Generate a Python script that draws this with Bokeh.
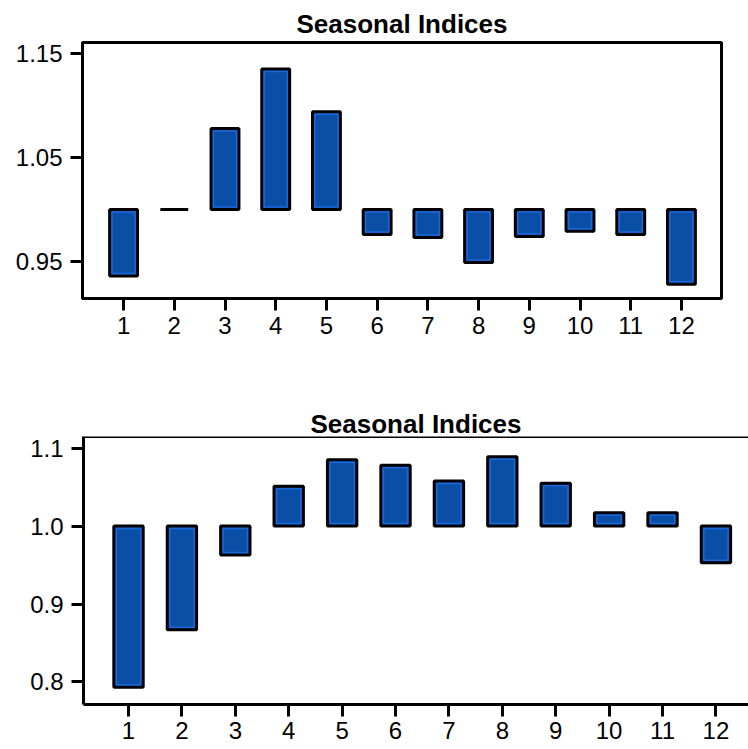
from bokeh.plotting import figure
from bokeh.models import FixedTicker, Span, Range1d, PrintfTickFormatter, ColumnDataSource, Title
from bokeh.embed import file_html
from bokeh.resources import INLINE

# ---- data ----
months = [1, 2, 3, 4, 5, 6, 7, 8, 9, 10, 11, 12]
month_labels = [str(m) for m in months]
top_indices = [0.936, 1.000, 1.078, 1.135, 1.094, 0.976, 0.973, 0.949, 0.974, 0.979, 0.976, 0.928]
bottom_indices = [0.793, 0.867, 0.963, 1.051, 1.085, 1.078, 1.058, 1.089, 1.055, 1.017, 1.017, 0.953]
top_yticks = [0.95, 1.05, 1.15]
bottom_yticks = [0.8, 0.9, 1.0, 1.1]
baseline = 1.0
title_text = "Seasonal Indices"

FONT = "Liberation Sans"
FILL = "#0a4fa5"
RING = "#1c6be0"
BAR_W = 0.55
INNER_W = 0.455


def style_axes(p, yticks, fmt):
    p.xgrid.visible = False
    p.ygrid.visible = False
    p.xaxis.ticker = FixedTicker(ticks=months)
    p.xaxis.major_label_overrides = {m: l for m, l in zip(months, month_labels)}
    p.yaxis.ticker = FixedTicker(ticks=yticks)
    p.yaxis.formatter = PrintfTickFormatter(format=fmt)
    for ax in (p.xaxis[0], p.yaxis[0]):
        ax.axis_line_color = "black"
        ax.axis_line_width = 3
        ax.major_tick_line_color = "black"
        ax.major_tick_line_width = 3
        ax.major_tick_out = 12
        ax.major_tick_in = 0
        ax.minor_tick_line_color = None
        ax.major_label_text_font = FONT
        ax.major_label_text_font_size = "24px"
        ax.major_label_text_color = "black"
    p.yaxis.major_label_standoff = 8
    p.background_fill_color = "white"
    p.border_fill_color = "white"


def make_title(standoff):
    return Title(text=title_text, align="center", text_font=FONT, text_font_size="26px",
                 text_font_style="bold", text_color="black", standoff=standoff)


def draw_bars(p, values, inset):
    src = ColumnDataSource(dict(x=months, top=values, bottom=[baseline] * len(values)))
    p.vbar(x="x", top="top", bottom="bottom", width=BAR_W, source=src,
           fill_color=FILL, line_color="black", line_width=3)
    # lighter inner edge (sheen) for bars tall enough to show it
    xs, tops, bots = [], [], []
    for m, v in zip(months, values):
        if abs(v - baseline) > 3 * inset:
            hi, lo = max(v, baseline), min(v, baseline)
            xs.append(m)
            tops.append(hi - inset)
            bots.append(lo + inset)
    src_in = ColumnDataSource(dict(x=xs, top=tops, bottom=bots))
    p.vbar(x="x", top="top", bottom="bottom", width=INNER_W, source=src_in,
           fill_color=None, line_color=RING, line_width=1.5, line_alpha=0.9)


# ---- top panel ----
t_x0, t_x1 = 0.19, 12.79
t_y0, t_y1 = 0.9144, 1.1606
p1 = figure(width=748, height=345, output_backend="svg", toolbar_location=None,
            x_range=Range1d(t_x0, t_x1), y_range=Range1d(t_y0, t_y1),
            min_border_left=82, min_border_right=27, min_border_top=42, min_border_bottom=47)
p1.title = make_title(8)
style_axes(p1, top_yticks, "%.2f")
p1.xaxis.major_label_standoff = 6
p1.outline_line_color = "black"
p1.outline_line_width = 3
draw_bars(p1, top_indices, 0.0024)

# ---- bottom panel ----
b_x0, b_x1 = 0.157, 12.61
b_y0, b_y1 = 0.771, 1.115
p2 = figure(width=748, height=403, output_backend="svg", toolbar_location=None,
            x_range=Range1d(b_x0, b_x1), y_range=Range1d(b_y0, b_y1),
            min_border_left=83, min_border_right=0, min_border_top=91, min_border_bottom=44)
p2.title = make_title(-4)
style_axes(p2, bottom_yticks, "%.1f")
p2.xaxis.major_label_standoff = 5
p2.outline_line_color = None
p2.add_layout(Span(location=b_y1, dimension="width", line_color="black", line_width=3))
draw_bars(p2, bottom_indices, 0.0032)

open("out.html", "w").write(file_html((p1, p2), INLINE))
